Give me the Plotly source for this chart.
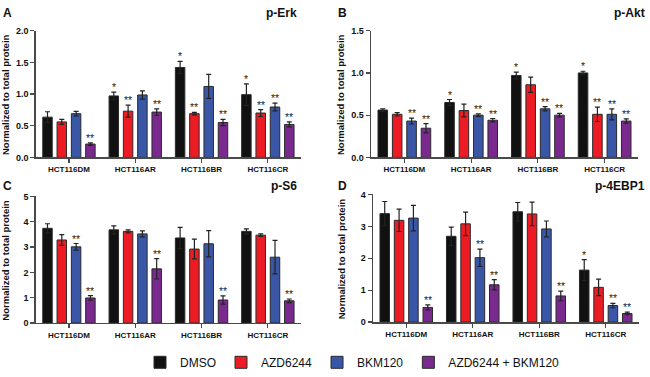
import plotly.graph_objects as go

categories = ["HCT116DM", "HCT116AR", "HCT116BR", "HCT116CR"]
treatments = ["DMSO", "AZD6244", "BKM120", "AZD6244 + BKM120"]
colors = ["#111111", "#ed1c24", "#3a56a6", "#7a2a8e"]

# p-Erk (panel A): values per treatment across categories
erk_mean = [[0.635, 0.97, 1.42, 0.99], [0.56, 0.73, 0.69, 0.70], [0.69, 0.985, 1.12, 0.795], [0.21, 0.715, 0.55, 0.52]]
erk_err = [[0.085, 0.06, 0.095, 0.17], [0.04, 0.095, 0.02, 0.055], [0.035, 0.065, 0.19, 0.06], [0.02, 0.05, 0.05, 0.04]]
erk_sig = [["", "*", "*", "*"], ["", "**", "**", "**"], ["", "", "", "**"], ["**", "**", "**", "**"]]

# p-Akt (panel B)
akt_mean = [[0.56, 0.65, 0.97, 1.0], [0.51, 0.555, 0.86, 0.51], [0.43, 0.50, 0.575, 0.51], [0.345, 0.44, 0.50, 0.43]]
akt_err = [[0.015, 0.035, 0.04, 0.02], [0.02, 0.075, 0.09, 0.085], [0.035, 0.015, 0.025, 0.065], [0.055, 0.02, 0.02, 0.025]]
akt_sig = [["", "*", "*", "*"], ["", "", "", "**"], ["**", "**", "**", "**"], ["**", "**", "**", "**"]]

# p-S6 (panel C)
s6_mean = [[3.74, 3.68, 3.36, 3.62], [3.28, 3.62, 2.92, 3.47], [3.01, 3.52, 3.13, 2.60], [0.99, 2.14, 0.91, 0.88]]
s6_err = [[0.18, 0.16, 0.42, 0.10], [0.21, 0.06, 0.39, 0.05], [0.13, 0.12, 0.52, 0.66], [0.09, 0.40, 0.16, 0.07]]
s6_sig = [["", "", "", ""], ["", "", "", ""], ["**", "", "", ""], ["**", "**", "**", "**"]]

# p-4EBP1 (panel D)
ebp_mean = [[3.40, 2.69, 3.46, 1.63], [3.19, 3.08, 3.39, 1.09], [3.26, 2.02, 2.92, 0.52], [0.46, 1.17, 0.82, 0.27]]
ebp_err = [[0.38, 0.29, 0.29, 0.33], [0.35, 0.37, 0.37, 0.26], [0.40, 0.27, 0.25, 0.07], [0.08, 0.16, 0.15, 0.04]]
ebp_sig = [["", "", "", "*"], ["", "", "", ""], ["", "**", "", "**"], ["**", "**", "**", "**"]]

panels = [
    dict(name="p-Erk", letter="A", mean=erk_mean, err=erk_err, sig=erk_sig, ymax=2.0, dtick=0.5, fmt=".1f",
         xd=(35.8, 301), yd=(27, 160), ty=8),
    dict(name="p-Akt", letter="B", mean=akt_mean, err=akt_err, sig=akt_sig, ymax=1.5, dtick=0.5, fmt=".1f",
         xd=(371, 638), yd=(27, 160), ty=8),
    dict(name="p-S6", letter="C", mean=s6_mean, err=s6_err, sig=s6_sig, ymax=5, dtick=1, fmt="d",
         xd=(35.8, 301), yd=(201, 334), ty=190),
    dict(name="p-4EBP1", letter="D", mean=ebp_mean, err=ebp_err, sig=ebp_sig, ymax=4, dtick=1, fmt="d",
         xd=(373, 639), yd=(199, 333), ty=190),
]

W, H = 650, 377
pitch = 0.2157
bar_w = 0.143
FONT = "Arial, Liberation Sans, sans-serif"

fig = go.Figure()
annotations = []
layout_axes = {}

for p_i, p in enumerate(panels):
    k = "" if p_i == 0 else str(p_i + 1)
    xa, ya = "x" + k, "y" + k
    for j, tr in enumerate(treatments):
        xs = [i + (j - 1.5) * pitch for i in range(len(categories))]
        fig.add_trace(go.Bar(
            x=xs, y=p["mean"][j], width=bar_w, name=tr, legendgroup=tr,
            showlegend=(p_i == 0),
            marker=dict(color=colors[j], line=dict(color="#2a2a2a", width=1)),
            error_y=dict(type="data", array=p["err"][j], visible=True, color="#222222", thickness=1.2, width=2.5),
            xaxis=xa, yaxis=ya, hoverinfo="skip",
        ))
        for i in range(len(categories)):
            s = p["sig"][j][i]
            if s:
                annotations.append(dict(
                    x=xs[i], y=p["mean"][j][i] + p["err"][j][i], xref=xa, yref=ya,
                    text=s, showarrow=False, xanchor="center", yanchor="bottom", yshift=-3,
                    font=dict(family=FONT, size=10.5, color="#222222"),
                ))
    x0, x1 = p["xd"]
    yt, yb = p["yd"]
    left = x0 < 100
    layout_axes["xaxis" + k] = dict(
        domain=[x0 / W, x1 / W], anchor=ya, range=[-0.5, 3.5],
        tickvals=list(range(len(categories))), ticktext=categories,
        showline=True, linecolor="#4a4a4a", linewidth=1.4, ticks="outside", ticklen=4,
        tickcolor="#4a4a4a", tickwidth=1.2, showgrid=False, zeroline=False,
        tickfont=dict(family=FONT, size=8, color="#111111", weight="bold"),
    )
    layout_axes["yaxis" + k] = dict(
        domain=[1 - yb / H, 1 - yt / H], anchor=xa, range=[0, p["ymax"]],
        dtick=p["dtick"], tick0=0, tickformat=p["fmt"],
        showline=True, linecolor="#4a4a4a", linewidth=1.4, ticks="outside", ticklen=4,
        tickcolor="#4a4a4a", tickwidth=1.2, showgrid=False, zeroline=False,
        tickfont=dict(family=FONT, size=9, color="#111111", weight="bold"),
    )
    # y title
    annotations.append(dict(
        x=(6 if left else 341) / W, y=1 - ((yt + yb) / 2 + 1) / H, xref="paper", yref="paper",
        text="Normalized to total protein", textangle=-90, showarrow=False,
        xanchor="center", yanchor="middle",
        font=dict(family=FONT, size=9.5, color="#111111", weight="bold"),
    ))
    # panel letter
    annotations.append(dict(
        x=(1 if left else 336) / W, y=1 - p["ty"] / H, xref="paper", yref="paper",
        text=p["letter"], showarrow=False, xanchor="left", yanchor="middle",
        font=dict(family=FONT, size=12, color="#111111", weight="bold"),
    ))
    # panel title
    annotations.append(dict(
        x=(299 if left else 647) / W, y=1 - p["ty"] / H, xref="paper", yref="paper",
        text=p["name"], showarrow=False, xanchor="right", yanchor="middle",
        font=dict(family=FONT, size=12, color="#111111", weight="bold"),
    ))

fig.update_layout(
    width=W, height=H, margin=dict(l=0, r=0, t=0, b=0),
    paper_bgcolor="white", plot_bgcolor="white",
    barmode="overlay", hovermode=False,
    font=dict(family=FONT, color="#111111"),
    legend=dict(orientation="h", x=140 / W, y=1 - 360 / H, xanchor="left", yanchor="top",
                font=dict(family=FONT, size=12, color="#111111"),
                traceorder="normal", bgcolor="rgba(0,0,0,0)"),
    annotations=annotations,
    **layout_axes,
)

fig.write_html("out.html", config={"displayModeBar": False, "staticPlot": True},
               post_script="document.body.style.margin='0px';")
